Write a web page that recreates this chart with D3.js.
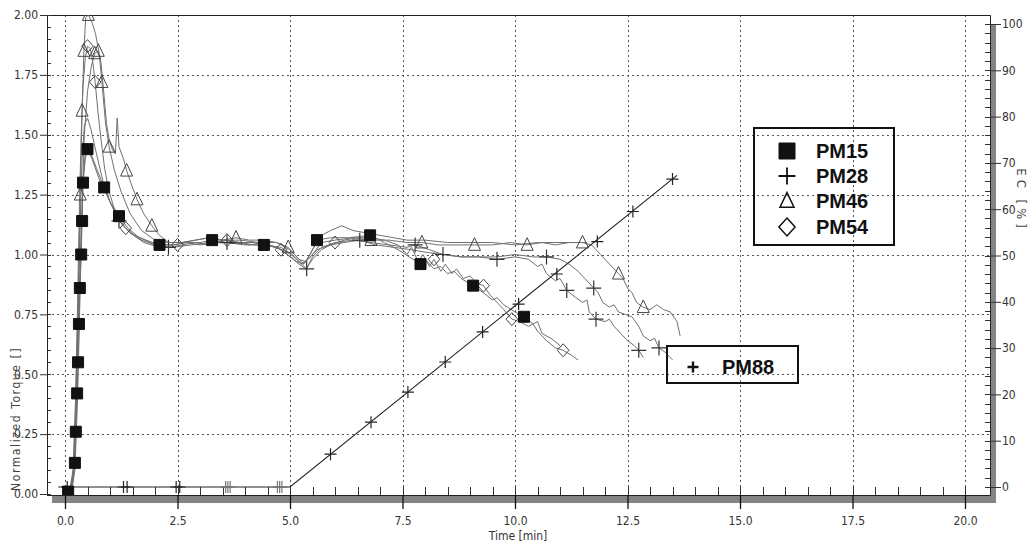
<!DOCTYPE html>
<html>
<head>
<meta charset="utf-8">
<script src="https://cdn.jsdelivr.net/npm/d3@7"></script>
<style>
  html, body { margin: 0; padding: 0; background: #fff; }
  svg { display: block; }
</style>
</head>
<body>
<svg id="chart" width="1036" height="545"></svg>
<script>
// ---- axis ticks ----
const timeTicks = [0, 2.5, 5, 7.5, 10, 12.5, 15, 17.5, 20];
const torqueTicks = [0, 0.25, 0.5, 0.75, 1, 1.25, 1.5, 1.75, 2];
const ecTicks = [0, 10, 20, 30, 40, 50, 60, 70, 80, 90, 100];

// ---- normalized torque curves: [time min, torque] ----
const pm15Curve = [[0.0,0.0],[0.07,0.01],[0.15,0.03],[0.2,0.1],[0.22,0.13],[0.24,0.26],[0.27,0.42],[0.29,0.55],[0.31,0.71],[0.33,0.86],[0.36,1.0],[0.38,1.14],[0.40,1.30],[0.45,1.40],[0.5,1.44],[0.58,1.42],[0.7,1.36],[0.87,1.28],[1.0,1.22],[1.2,1.16],[1.4,1.11],[1.65,1.07],[1.9,1.05],[2.1,1.04],[2.4,1.04],[2.7,1.05],[3.0,1.05],[3.27,1.06],[3.6,1.05],[3.9,1.05],[4.2,1.04],[4.42,1.04],[4.7,1.03],[4.95,1.0],[5.15,0.97],[5.3,0.96],[5.45,1.0],[5.6,1.06],[5.9,1.07],[6.3,1.07],[6.78,1.08],[7.1,1.05],[7.4,1.02],[7.65,0.99],[7.9,0.96],[8.05,0.97],[8.2,0.94],[8.35,0.95],[8.5,0.92],[8.65,0.93],[8.8,0.9],[9.07,0.87],[9.3,0.84],[9.5,0.81],[9.6,0.82],[9.75,0.79],[10.0,0.76],[10.2,0.74],[10.4,0.71],[10.5,0.72],[10.6,0.67],[10.8,0.65],[11.0,0.62]];
const pm15Marks = [[0.07,0.01],[0.22,0.13],[0.24,0.26],[0.27,0.42],[0.29,0.55],[0.31,0.71],[0.33,0.86],[0.36,1.0],[0.38,1.14],[0.40,1.30],[0.5,1.44],[0.87,1.28],[1.2,1.16],[2.1,1.04],[3.27,1.06],[4.42,1.04],[5.6,1.06],[6.78,1.08],[7.9,0.96],[9.07,0.87],[10.2,0.74]];

const pm28CurveA = [[0.0,0.0],[0.1,0.01],[0.18,0.1],[0.22,0.3],[0.26,0.55],[0.3,0.85],[0.34,1.15],[0.38,1.4],[0.43,1.54],[0.5,1.57],[0.58,1.52],[0.7,1.42],[0.85,1.3],[1.0,1.22],[1.2,1.14],[1.45,1.09],[1.7,1.06],[2.0,1.04],[2.3,1.03],[2.6,1.04],[2.9,1.05],[3.2,1.04],[3.5,1.06],[3.8,1.05],[4.1,1.04],[4.4,1.05],[4.7,1.03],[4.95,1.01],[5.15,0.98],[5.37,0.94],[5.5,0.99],[5.7,1.03],[6.0,1.05],[6.4,1.06],[6.8,1.05],[7.2,1.04],[7.6,1.03],[7.78,1.04],[8.1,1.02],[8.4,1.0],[8.8,0.99],[9.2,0.99],[9.6,0.98],[10.0,0.99],[10.3,0.98],[10.5,0.95],[10.6,0.96],[10.7,0.92],[10.9,0.89],[11.0,0.9],[11.15,0.85],[11.35,0.82],[11.5,0.8],[11.6,0.81],[11.65,0.76],[11.8,0.73],[12.0,0.72],[12.1,0.73],[12.2,0.7],[12.35,0.67],[12.5,0.64],[12.65,0.62],[12.75,0.6],[12.85,0.57]];
const pm28MarksA = [[1.2,1.14],[2.3,1.03],[5.37,0.94],[7.78,1.04],[9.6,0.98],[11.15,0.85],[11.8,0.73],[12.75,0.6]];

const pm28CurveB = [[0.0,0.0],[0.12,0.01],[0.2,0.12],[0.25,0.4],[0.3,0.75],[0.35,1.05],[0.4,1.3],[0.45,1.42],[0.5,1.44],[0.6,1.4],[0.75,1.32],[0.9,1.26],[1.05,1.2],[1.2,1.14],[1.45,1.09],[1.75,1.05],[2.1,1.03],[2.4,1.03],[2.8,1.04],[3.2,1.05],[3.6,1.05],[4.0,1.04],[4.4,1.04],[4.8,1.03],[5.05,1.0],[5.25,0.96],[5.4,0.98],[5.6,1.02],[5.9,1.04],[6.2,1.05],[6.55,1.06],[6.9,1.04],[7.3,1.03],[7.7,1.02],[8.0,1.01],[8.4,1.0],[8.8,0.99],[9.2,0.99],[9.6,0.99],[10.0,1.0],[10.4,0.99],[10.7,0.99],[11.0,0.98],[11.2,0.96],[11.4,0.93],[11.55,0.9],[11.75,0.86],[11.85,0.84],[11.95,0.8],[12.1,0.78],[12.2,0.79],[12.3,0.76],[12.45,0.75],[12.6,0.74],[12.75,0.7],[12.85,0.66],[13.0,0.64],[13.1,0.65],[13.2,0.61],[13.35,0.59],[13.5,0.56]];
const pm28MarksB = [[3.6,1.05],[6.55,1.06],[8.4,1.0],[10.7,0.99],[11.75,0.86],[13.2,0.61]];

const pm46CurveA = [[0.0,0.0],[0.12,0.01],[0.2,0.1],[0.25,0.4],[0.3,0.85],[0.34,1.25],[0.38,1.6],[0.42,1.85],[0.46,1.99],[0.52,2.0],[0.6,1.97],[0.68,1.92],[0.76,1.84],[0.82,1.72],[0.9,1.55],[0.98,1.45],[1.1,1.35],[1.25,1.26],[1.45,1.17],[1.7,1.1],[2.0,1.06],[2.3,1.05],[2.6,1.05],[2.9,1.06],[3.2,1.07],[3.5,1.06],[3.8,1.07],[4.1,1.06],[4.4,1.06],[4.7,1.05],[4.96,1.03],[5.15,0.99],[5.3,0.96],[5.5,1.0],[5.7,1.05],[6.0,1.06],[6.4,1.07],[6.8,1.06],[7.2,1.06],[7.6,1.05],[7.93,1.05],[8.3,1.04],[8.7,1.04],[9.1,1.04],[9.5,1.04],[9.9,1.05],[10.27,1.04],[10.6,1.05],[10.9,1.04],[11.2,1.05],[11.5,1.05],[11.7,1.04],[11.9,1.0],[12.1,0.96],[12.3,0.92],[12.4,0.9],[12.5,0.86],[12.6,0.84],[12.7,0.8],[12.85,0.78],[13.0,0.77],[13.15,0.79],[13.3,0.77],[13.45,0.76],[13.6,0.72],[13.67,0.66]];
const pm46MarksA = [[0.34,1.25],[0.38,1.6],[0.42,1.85],[0.52,2.0],[0.82,1.72],[0.98,1.45],[3.8,1.07],[4.96,1.03],[6.8,1.06],[7.93,1.05],[9.1,1.04],[10.27,1.04],[11.5,1.05],[12.3,0.92],[12.85,0.78]];

const pm46CurveB = [[0.0,0.0],[0.15,0.01],[0.22,0.1],[0.28,0.4],[0.33,0.8],[0.38,1.2],[0.43,1.5],[0.5,1.68],[0.58,1.78],[0.66,1.84],[0.74,1.85],[0.8,1.8],[0.86,1.68],[0.92,1.55],[0.98,1.48],[1.05,1.44],[1.12,1.42],[1.16,1.57],[1.2,1.45],[1.3,1.4],[1.37,1.35],[1.48,1.29],[1.6,1.23],[1.75,1.17],[1.93,1.12],[2.1,1.08],[2.3,1.05],[2.6,1.05],[2.9,1.06],[3.2,1.07],[3.5,1.06],[3.9,1.06],[4.3,1.05],[4.7,1.05],[5.0,1.02],[5.2,0.98],[5.35,0.97],[5.5,1.02],[5.7,1.08],[5.9,1.1],[6.15,1.12],[6.4,1.1],[6.7,1.09],[7.0,1.08],[7.3,1.07],[7.6,1.06],[8.0,1.06],[8.5,1.05],[9.0,1.05],[9.5,1.05],[10.0,1.04],[10.5,1.05],[11.0,1.05],[11.6,1.05]];
const pm46MarksB = [[0.66,1.84],[0.74,1.85],[1.37,1.35],[1.6,1.23],[1.93,1.12]];

const pm54Curve = [[0.0,0.0],[0.1,0.01],[0.18,0.08],[0.23,0.35],[0.28,0.8],[0.32,1.2],[0.36,1.5],[0.4,1.7],[0.45,1.82],[0.5,1.87],[0.56,1.86],[0.62,1.8],[0.67,1.72],[0.73,1.6],[0.8,1.48],[0.88,1.36],[0.97,1.27],[1.08,1.2],[1.2,1.15],[1.35,1.11],[1.55,1.08],[1.8,1.06],[2.1,1.04],[2.4,1.04],[2.7,1.05],[3.0,1.04],[3.3,1.05],[3.6,1.06],[3.9,1.05],[4.2,1.05],[4.5,1.04],[4.8,1.02],[5.0,0.99],[5.2,0.96],[5.35,0.94],[5.5,0.98],[5.7,1.02],[5.9,1.04],[6.2,1.06],[6.5,1.07],[6.8,1.07],[7.1,1.06],[7.4,1.04],[7.6,1.0],[7.7,1.03],[7.85,0.97],[7.95,1.0],[8.1,0.95],[8.2,0.98],[8.35,0.93],[8.45,0.96],[8.6,0.92],[8.7,0.94],[8.85,0.9],[9.0,0.91],[9.15,0.88],[9.3,0.87],[9.45,0.83],[9.6,0.8],[9.75,0.77],[9.93,0.73],[10.1,0.72],[10.3,0.7],[10.4,0.71],[10.5,0.68],[10.7,0.64],[10.9,0.61],[11.07,0.6],[11.25,0.58],[11.4,0.56]];
const pm54Marks = [[0.5,1.87],[0.67,1.72],[1.35,1.11],[2.5,1.04],[3.6,1.06],[4.8,1.02],[6.0,1.05],[8.2,0.98],[9.3,0.87],[9.93,0.73],[11.07,0.6]];

// ---- PM88 electrical conductivity [%] ----
const pm88Time = [-0.15, 5.0, 13.6];
const pm88EC = [0, 0, 67.3];
const pm88MarkTime = [0.05, 1.3, 1.38, 2.47, 2.55, 3.57, 3.62, 3.67, 4.72, 4.77, 4.82, 5.9, 6.8, 7.62, 8.45, 9.28, 10.08, 10.93, 11.83, 12.62, 13.5];
const pm88MarkEC = [0, 0, 0, 0, 0, 0, 0, 0, 0, 0, 0, 7.1, 14.0, 20.5, 27.0, 33.5, 39.5, 46.0, 53.0, 59.5, 66.5];

const legendNames = ["PM15", "PM28", "PM46", "PM54"];

// ---- layout ----
const svg = d3.select("#chart");
const plot = { left: 47, right: 990, top: 15, bottom: 495 };
const x = d3.scaleLinear().domain([0, 20]).range([65, 965]);
const y = d3.scaleLinear().domain([0, 2]).range([494, 15]);
const yEC = d3.scaleLinear().domain([0, 100]).range([487, 24]);

const tickFont = "'Liberation Sans Narrow', 'DejaVu Sans Condensed', sans-serif";

// marker shapes
const shapes = {
  square: s => `M${-s/2},${-s/2}h${s}v${s}h${-s}Z`,
  plus: s => `M${-s/2},0H${s/2}M0,${-s/2}V${s/2}`,
  triangle: s => `M0,${-s*0.6}L${s/2},${s*0.45}L${-s/2},${s*0.45}Z`,
  diamond: s => `M0,${-s/2}L${s*0.45},0L0,${s/2}L${-s*0.45},0Z`
};

// shadow of the frame
svg.append("rect").attr("x", 52).attr("y", plot.bottom).attr("width", 996 - 52).attr("height", 8).attr("fill", "#848484");
svg.append("rect").attr("x", plot.right).attr("y", 24).attr("width", 6).attr("height", 503 - 24).attr("fill", "#848484");

// dotted grid
const grid = svg.append("g").attr("stroke", "#555").attr("stroke-width", 1).attr("stroke-dasharray", "2,3");
grid.selectAll("line.v").data(timeTicks).join("line")
  .attr("x1", d => Math.round(x(d)) + 0.5).attr("x2", d => Math.round(x(d)) + 0.5)
  .attr("y1", plot.top).attr("y2", plot.bottom);
grid.selectAll("line.h").data(torqueTicks.filter(d => d > 0 && d < 2)).join("line")
  .attr("x1", plot.left).attr("x2", plot.right)
  .attr("y1", d => Math.round(y(d)) + 0.5).attr("y2", d => Math.round(y(d)) + 0.5);

// frame
svg.append("path")
  .attr("d", `M${plot.left + 0.5},${plot.bottom}V${plot.top + 0.5}H${plot.right + 0.5}V${plot.bottom + 0.5}H${plot.left}`)
  .attr("fill", "none").attr("stroke", "#222").attr("stroke-width", 1);

// left axis
const yAxis = svg.append("g").attr("transform", `translate(${plot.left},0)`)
  .call(d3.axisLeft(y).tickValues(torqueTicks).tickFormat(d3.format(".2f")).tickSize(7).tickSizeOuter(0).tickPadding(2));
yAxis.select(".domain").remove();
yAxis.selectAll("line").attr("stroke", "#333");
yAxis.selectAll("text").attr("font-family", tickFont).attr("font-size", 12).attr("fill", "#333");
svg.append("g").attr("stroke", "#333").selectAll("line").data(d3.range(0, 2.0001, 0.05)).join("line")
  .attr("x1", plot.left).attr("x2", plot.left + 4)
  .attr("y1", d => Math.round(y(d)) + 0.5).attr("y2", d => Math.round(y(d)) + 0.5);

// bottom axis
const xAxis = svg.append("g").attr("transform", `translate(0,${plot.bottom})`)
  .call(d3.axisBottom(x).tickValues(timeTicks).tickFormat(d3.format(".1f")).tickSize(14).tickSizeOuter(0).tickPadding(7));
xAxis.select(".domain").remove();
xAxis.selectAll("line").attr("stroke", "#111").attr("stroke-width", 1.3);
xAxis.selectAll("text").attr("font-family", tickFont).attr("font-size", 12).attr("fill", "#333");
svg.append("g").attr("stroke", "#333").selectAll("line").data(d3.range(0, 20.0001, 0.5)).join("line")
  .attr("x1", d => Math.round(x(d)) + 0.5).attr("x2", d => Math.round(x(d)) + 0.5)
  .attr("y1", plot.bottom - 8).attr("y2", plot.bottom);

// right axis (EC)
const ecAxis = svg.append("g").attr("transform", `translate(${plot.right},0)`)
  .call(d3.axisRight(yEC).tickValues(ecTicks).tickFormat(d3.format("d")).tickSize(11).tickSizeOuter(0).tickPadding(1));
ecAxis.select(".domain").remove();
ecAxis.selectAll("line").attr("stroke", "#333");
ecAxis.selectAll("text").attr("font-family", tickFont).attr("font-size", 12).attr("fill", "#333");
svg.append("g").attr("stroke", "#333").selectAll("line").data(d3.range(0, 100.001, 2)).join("line")
  .attr("x1", plot.right - 5).attr("x2", plot.right)
  .attr("y1", d => Math.round(yEC(d)) + 0.5).attr("y2", d => Math.round(yEC(d)) + 0.5);

// axis titles
svg.append("text").attr("transform", "translate(20,491) rotate(-90)")
  .attr("font-family", tickFont).attr("font-size", 12).attr("letter-spacing", "1.6px").attr("fill", "#444")
  .text("Normalized Torque []");
svg.append("text").attr("x", 518).attr("y", 540).attr("text-anchor", "middle")
  .attr("font-family", tickFont).attr("font-size", 12).attr("fill", "#333")
  .text("Time [min]");
svg.append("text").attr("transform", "translate(1017,200) rotate(90)").attr("text-anchor", "middle")
  .attr("font-family", tickFont).attr("font-size", 13).attr("letter-spacing", "4px").attr("fill", "#444")
  .text("EC [%]");

// curves
svg.append("clipPath").attr("id", "plotClip").append("rect")
  .attr("x", plot.left).attr("y", plot.top).attr("width", plot.right - plot.left).attr("height", plot.bottom - plot.top);
const body = svg.append("g").attr("clip-path", "url(#plotClip)");
const line = d3.line().x(d => x(d[0])).y(d => y(d[1]));

const curves = [pm46CurveB, pm46CurveA, pm54Curve, pm28CurveB, pm28CurveA, pm15Curve];
body.selectAll("path.curve").data(curves).join("path")
  .attr("class", "curve").attr("d", line)
  .attr("fill", "none").attr("stroke", "#707070").attr("stroke-width", 1);

// PM88 conductivity line
const ecLine = d3.line().x(d => x(d[0])).y(d => yEC(d[1]));
body.append("path").attr("d", ecLine(pm88Time.map((t, i) => [t, pm88EC[i]])))
  .attr("fill", "none").attr("stroke", "#222").attr("stroke-width", 1.1);
body.selectAll("path.m88").data(pm88MarkTime.map((t, i) => [t, pm88MarkEC[i]])).join("path")
  .attr("class", "m88")
  .attr("transform", d => `translate(${x(d[0])},${yEC(d[1])})`)
  .attr("d", shapes.plus(12)).attr("fill", "none")
  .attr("stroke", (d, i) => (i >= 5 && i <= 10) ? "#777" : "#222").attr("stroke-width", 1.2);

// markers
function drawMarks(data, shape, size, fill, stroke, width) {
  body.append("g").selectAll("path").data(data).join("path")
    .attr("transform", d => `translate(${x(d[0])},${y(d[1])})`)
    .attr("d", shapes[shape](size))
    .attr("fill", fill).attr("stroke", stroke).attr("stroke-width", width);
}
drawMarks(pm46MarksA, "triangle", 12, "none", "#444", 1);
drawMarks(pm46MarksB, "triangle", 12, "none", "#444", 1);
drawMarks(pm54Marks, "diamond", 13, "none", "#444", 1);
drawMarks(pm28MarksA, "plus", 15, "none", "#333", 1.2);
drawMarks(pm28MarksB, "plus", 15, "none", "#333", 1.2);
drawMarks(pm15Marks, "square", 11, "#111", "#111", 1);

// legend for torque series
svg.append("rect").attr("x", 754).attr("y", 128).attr("width", 140).attr("height", 117)
  .attr("fill", "none").attr("stroke", "#111").attr("stroke-width", 2);
const legendShapes = [
  { shape: "square", size: 16, fill: "#111", stroke: "#111", w: 1 },
  { shape: "plus", size: 17, fill: "none", stroke: "#111", w: 1.8 },
  { shape: "triangle", size: 14, fill: "none", stroke: "#111", w: 1.5 },
  { shape: "diamond", size: 18, fill: "none", stroke: "#111", w: 1.5 }
];
const legendRows = [151, 176, 201, 227];
const lg = svg.append("g").selectAll("g").data(legendNames).join("g")
  .attr("transform", (d, i) => `translate(0,${legendRows[i]})`);
lg.append("path").attr("transform", "translate(787,0)")
  .attr("d", (d, i) => shapes[legendShapes[i].shape](legendShapes[i].size))
  .attr("fill", (d, i) => legendShapes[i].fill).attr("stroke", (d, i) => legendShapes[i].stroke)
  .attr("stroke-width", (d, i) => legendShapes[i].w);
lg.append("text").attr("x", 816).attr("y", 7)
  .attr("font-family", "'Liberation Sans', Arial, sans-serif").attr("font-weight", "bold").attr("font-size", 20)
  .attr("fill", "#111").text(d => d);

// legend for PM88
svg.append("rect").attr("x", 667).attr("y", 346).attr("width", 131).attr("height", 37)
  .attr("fill", "none").attr("stroke", "#111").attr("stroke-width", 2);
svg.append("path").attr("transform", "translate(693,367)").attr("d", shapes.plus(11))
  .attr("fill", "none").attr("stroke", "#111").attr("stroke-width", 2.4);
svg.append("text").attr("x", 722).attr("y", 374)
  .attr("font-family", "'Liberation Sans', Arial, sans-serif").attr("font-weight", "bold").attr("font-size", 20)
  .attr("fill", "#111").text("PM88");
</script>
</body>
</html>
